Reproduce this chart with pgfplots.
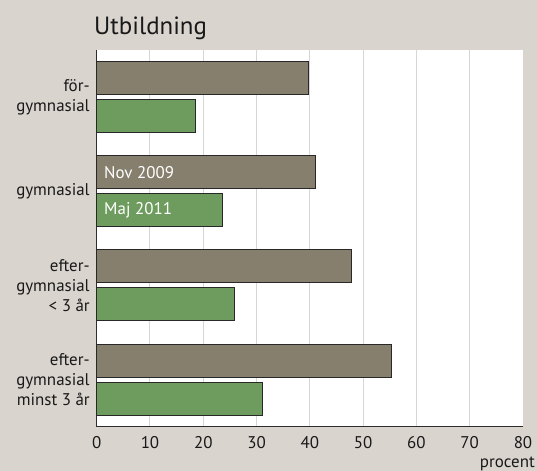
\documentclass[border=0pt]{standalone}
\usepackage{fontspec}
\setmainfont{PT Sans}
\usepackage{pgfplots}
\pgfplotsset{compat=1.18}
\definecolor{bg}{RGB}{217,212,206}
\definecolor{barA}{RGB}{135,127,110}
\definecolor{barB}{RGB}{110,156,94}
\definecolor{edgec}{RGB}{40,40,40}
\definecolor{gridc}{RGB}{214,214,214}
\definecolor{axisc}{RGB}{45,45,45}
\begin{document}
\begin{tikzpicture}
\fill[bg] (0bp,0bp) rectangle (537bp,471bp);
\begin{axis}[
  at={(96.7bp,44.3bp)}, anchor=south west,
  scale only axis, width=426.3bp, height=376.7bp,
  xmin=0, xmax=80, ymin=-0.5, ymax=3.5,
  xbar, bar width=33bp,
  axis x line*=bottom, axis y line*=left,
  axis line style={draw=axisc, line width=1.2bp, -},
  axis background/.style={fill=white},
  xtick={10,20,...,70},
  extra x ticks={0,80},
  extra x tick labels={\raisebox{5bp}{0},80},
  extra x tick style={grid=none},
  ytick={0,1,2,3},
  yticklabels={{efter-\\gymnasial\\minst 3 år},{efter-\\gymnasial\\< 3 år},{gymnasial},{för-\\gymnasial}},
  major tick length=0pt,
  xmajorgrids, major grid style={draw=gridc, line width=1bp},
  /pgf/number format/assume math mode=true,
  tick label style={font=\fontsize{17}{20}\selectfont, text=black!90},
  yticklabel style={align=right, xshift=-3.5bp},
  xticklabel style={yshift=-6bp},
  clip=false,
]
\addplot[fill=barA, draw=edgec, line width=1bp, bar shift=19bp] coordinates {(39.7,3) (41.1,2) (47.8,1) (55.4,0)};
\addplot[fill=barB, draw=edgec, line width=1bp, bar shift=-19bp] coordinates {(18.6,3) (23.6,2) (25.9,1) (31.1,0)};
\node[anchor=west, text=white, font=\fontsize{17}{20}\selectfont, yshift=19bp, xshift=4bp] at (axis cs:0,2) {Nov 2009};
\node[anchor=west, text=white, font=\fontsize{17}{20}\selectfont, yshift=-19bp, xshift=4bp] at (axis cs:0,2) {Maj 2011};
\end{axis}
\node[anchor=base west, font=\fontsize{25}{30}\selectfont, text=black!90, inner sep=0pt] at (94bp,436bp) {Utbildning};
\node[anchor=base east, font=\fontsize{17}{20}\selectfont, text=black!90, inner sep=0pt] at (535bp,4bp) {procent};
\pgfresetboundingbox
\useasboundingbox (0bp,0bp) rectangle (537bp,471bp);
\end{tikzpicture}
\end{document}
